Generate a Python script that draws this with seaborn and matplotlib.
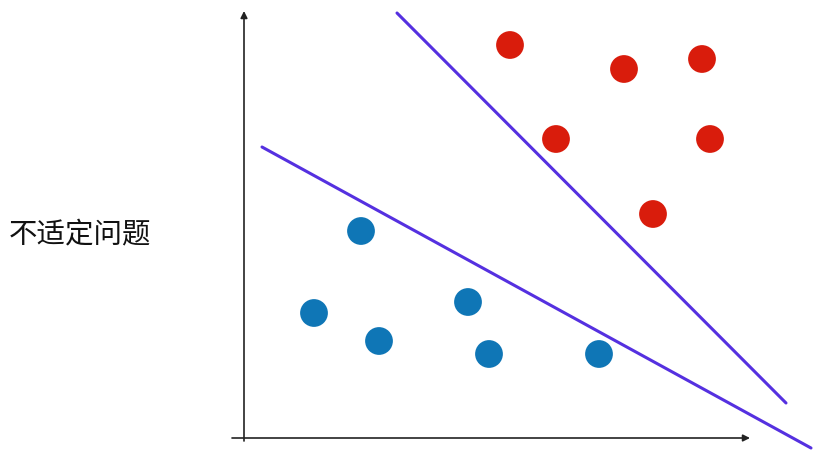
import pandas as pd
import matplotlib.pyplot as plt
import seaborn as sns

# Point positions, measured from the axis origin (x right, y up)
blue_x = [117, 70, 135, 224, 245, 355]
blue_y = [207, 125, 97, 136, 84, 84]
red_x = [266, 380, 458, 312, 466, 409]
red_y = [393, 369, 379, 299, 299, 224]

# Two separating lines (start / end points)
line1_x = [153, 542]
line1_y = [425, 35]
line2_x = [18, 567]
line2_y = [291, -10]

title_text = '不适定问题'

sns.set_style('white')
plt.rcParams['font.family'] = ['Noto Sans CJK SC', 'DejaVu Sans']

df = pd.DataFrame({
    'x': blue_x + red_x,
    'y': blue_y + red_y,
    'cls': ['blue'] * len(blue_x) + ['red'] * len(red_x),
})

fig = plt.figure(figsize=(8.3, 4.59), dpi=100)
ax = fig.add_axes([0, 0, 1, 1])
ax.set_xlim(-244, 586)
ax.set_ylim(-21, 438)
ax.axis('off')

# axes with arrows
ax.annotate('', xy=(0, 427), xytext=(0, -3),
            arrowprops=dict(arrowstyle='-|>', color='#222222', lw=1.2,
                            mutation_scale=10, shrinkA=0, shrinkB=0))
ax.annotate('', xy=(506, 0), xytext=(-12, 0),
            arrowprops=dict(arrowstyle='-|>', color='#222222', lw=1.2,
                            mutation_scale=10, shrinkA=0, shrinkB=0))

sns.lineplot(x=line1_x, y=line1_y, color='#5530e0', lw=2.2, ax=ax)
sns.lineplot(x=line2_x, y=line2_y, color='#5530e0', lw=2.2, ax=ax)

sns.scatterplot(data=df, x='x', y='y', hue='cls',
                palette={'blue': '#0f76b6', 'red': '#d91c0c'},
                s=400, edgecolor='none', legend=False, ax=ax, zorder=3)

ax.text(-235, 204, title_text, fontsize=20.5, va='center', ha='left', color='#111111')

fig.savefig('out.png', dpi=100)
